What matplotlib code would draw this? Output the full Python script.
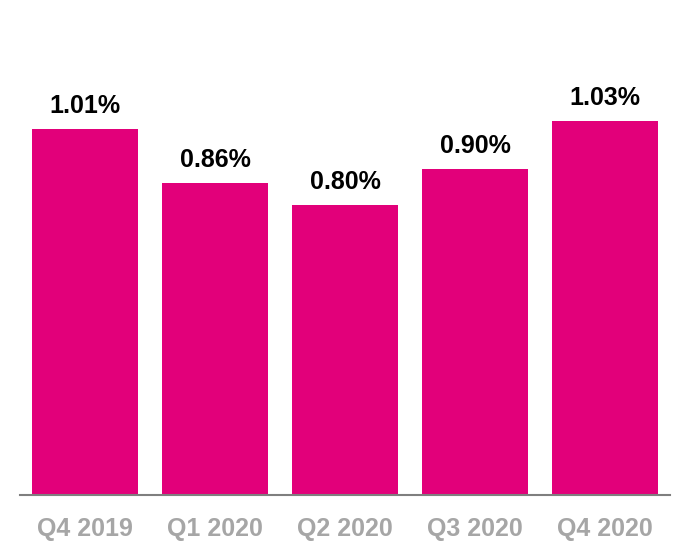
import matplotlib.pyplot as plt

# quarterly values
quarters = ['Q4 2019', 'Q1 2020', 'Q2 2020', 'Q3 2020', 'Q4 2020']
values = [1.01, 0.86, 0.80, 0.90, 1.03]
labels = ['1.01%', '0.86%', '0.80%', '0.90%', '1.03%']

plt.rcParams['font.family'] = ['Liberation Sans', 'DejaVu Sans']

fig = plt.figure(figsize=(6.9, 5.6), dpi=100)
ax = fig.add_axes([20 / 690, 65 / 560, 650 / 690, 495 / 560])

x = range(len(quarters))
ax.bar(x, values, width=0.815, color='#e2007a')

for i, (v, lab) in enumerate(zip(values, labels)):
    ax.annotate(lab, (i, v), xytext=(0, 8), textcoords='offset points',
                ha='center', va='bottom', fontsize=18, fontweight='bold',
                color='black')

ax.set_xlim(-0.5, 4.5)
ax.set_ylim(0, 1.365)
ax.set_xticks(list(x))
ax.set_xticklabels(quarters, fontsize=18, fontweight='bold', color='#a6a6a6')
ax.tick_params(axis='x', length=0, pad=16)
ax.set_yticks([])

for side in ['top', 'right', 'left']:
    ax.spines[side].set_visible(False)
ax.spines['bottom'].set_color('#7f7f7f')
ax.spines['bottom'].set_linewidth(1.5)

fig.savefig('out.png', dpi=100)
